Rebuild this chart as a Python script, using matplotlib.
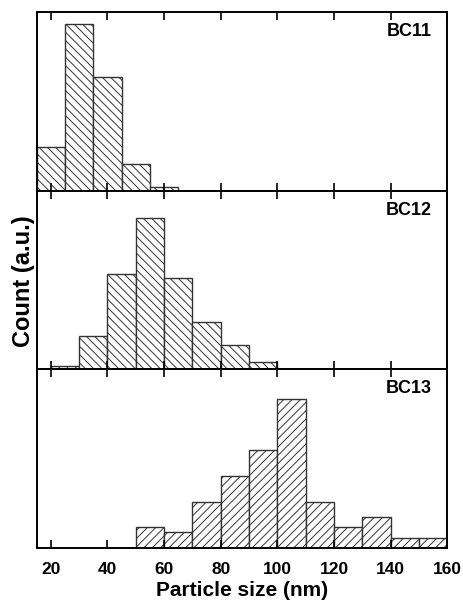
import matplotlib.pyplot as plt
import numpy as np

plt.rcParams['font.family'] = ['Liberation Sans', 'DejaVu Sans']
plt.rcParams['font.weight'] = 'bold'
plt.rcParams['hatch.color'] = '#777777'
plt.rcParams['hatch.linewidth'] = 0.7

# bin edges and counts (arbitrary units)
bc11_edges = [15, 25, 35, 45, 55, 65]
bc11_counts = [10, 38, 26, 6, 0.9]

bc12_edges = [20, 30, 40, 50, 60, 70, 80, 90, 100]
bc12_counts = [1, 10, 29, 46.3, 27.7, 14.5, 7.5, 2.3]

bc13_edges = [50, 60, 70, 80, 90, 100, 110, 120, 130, 140, 150, 160]
bc13_counts = [4, 3, 9, 14, 19, 29, 9, 4, 6, 2, 2]

samples = ['BC11', 'BC12', 'BC13']
hatches = ['\\\\\\\\', '\\\\\\\\', '////']
ymax = [40.7, 54.5, 34.7]

fig, axes = plt.subplots(3, 1, figsize=(4.64, 6.04), dpi=100, sharex=True)
fig.subplots_adjust(left=0.079, right=0.964, bottom=0.093, top=0.980, hspace=0)

data = [(bc11_edges, bc11_counts), (bc12_edges, bc12_counts), (bc13_edges, bc13_counts)]
for ax, (edges, counts), name, h, ym in zip(axes, data, samples, hatches, ymax):
    edges = np.array(edges)
    ax.bar(edges[:-1], counts, width=np.diff(edges), align='edge',
           facecolor='white', edgecolor='#333333', linewidth=1.0, hatch=h)
    ax.set_ylim(0, ym)
    ax.set_yticks([])
    ax.set_xlim(15, 160)
    ax.set_xticks(np.arange(20, 161, 20))
    ax.tick_params(axis='x', direction='in', top=True, length=6, width=1.2,
                   labelsize=12.5, pad=10)
    for s in ax.spines.values():
        s.set_linewidth(1.4)
    ax.text(0.963, 0.89, name, transform=ax.transAxes, ha='right', va='center',
            fontsize=13, fontweight='bold')

for lab in axes[-1].get_xticklabels():
    lab.set_fontweight('bold')
axes[-1].set_xlabel('Particle size (nm)', fontsize=15, fontweight='bold', labelpad=3)
fig.text(0.05, 0.535, 'Count (a.u.)', rotation=90, ha='center', va='center',
         fontsize=17, fontweight='bold')

plt.savefig('out.png', dpi=100)
